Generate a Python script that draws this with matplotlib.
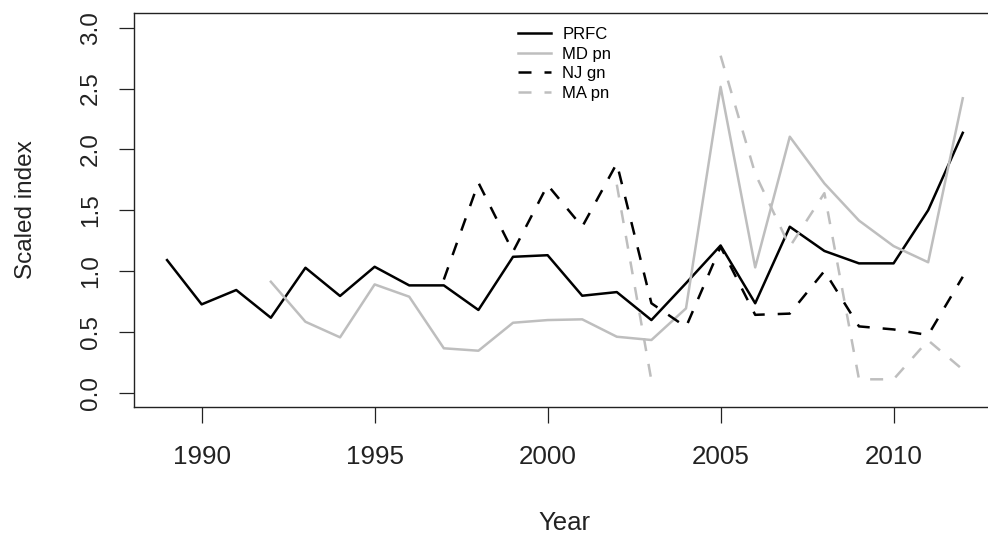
import numpy as np
import matplotlib
matplotlib.use('Agg')
import matplotlib.pyplot as plt

plt.rcParams['font.family'] = ['Liberation Sans', 'DejaVu Sans']

# Values (NaN = no data)
years = list(range(1989, 2013))
nan = np.nan
prfc = [1.09, 0.726, 0.844, 0.616, 1.027, 0.795, 1.035, 0.882, 0.882, 0.68, 1.117, 1.13,
        0.797, 0.827, 0.597, 0.90, 1.21, 0.735, 1.364, 1.165, 1.063, 1.063, 1.50, 2.136]
md_pn = [nan, nan, nan, 0.912, 0.583, 0.455, 0.89, 0.789, 0.365, 0.345, 0.575, 0.597,
         0.603, 0.46, 0.433, 0.693, 2.514, 1.03, 2.104, 1.72, 1.415, 1.205, 1.072, 2.42]
nj_gn = [nan, nan, nan, nan, nan, nan, nan, nan, 0.93, 1.726, 1.159, 1.707,
         1.364, 1.885, 0.735, 0.54, 1.2, 0.64, 0.65, 1.0, 0.545, 0.52, 0.474, 0.953]
ma_pn = [nan, nan, nan, nan, nan, nan, nan, nan, nan, nan, nan, nan,
         nan, 1.71, 0.10, nan, 2.77, 1.80, 1.20, 1.64, 0.11, 0.11, 0.43, 0.19]

gray = '#bebebe'
lw = 1.8
dash = (0, (5.2, 5.2))

fig = plt.figure(figsize=(9.88, 5.37), dpi=100)
ax = fig.add_axes([133.5 / 988, 1 - 407.3 / 537, (994.6 - 133.5) / 988, (407.3 - 13.1) / 537])

ax.plot(years, prfc, color='black', lw=lw, label='PRFC')
ax.plot(years, md_pn, color=gray, lw=lw, label='MD pn')
ax.plot(years, nj_gn, color='black', lw=lw, linestyle=dash, label='NJ gn')
ax.plot(years, ma_pn, color=gray, lw=lw, linestyle=dash, label='MA pn')

ax.set_xlim(1988.03, 2012.92)
ax.set_ylim(-0.12, 3.12)

ax.set_xticks([1990, 1995, 2000, 2005, 2010])
ax.set_yticks([0.0, 0.5, 1.0, 1.5, 2.0, 2.5, 3.0])
ax.set_yticklabels(['0.0', '0.5', '1.0', '1.5', '2.0', '2.5', '3.0'])
ax.tick_params(axis='x', length=11.5, width=0.9, pad=15.5, labelsize=18.7, colors='#222222')
ax.tick_params(axis='y', length=10.8, width=0.9, pad=12, labelsize=17.5, colors='#222222')
for lbl in ax.get_yticklabels():
    lbl.set_rotation(90)
    lbl.set_va('center')
    lbl.set_ha('right')

for s in ax.spines.values():
    s.set_linewidth(1.0)
    s.set_color('#222222')

fig.text(564 / 988, 1 - 530 / 537, 'Year', ha='center', va='baseline', fontsize=18.5, color='#222222')
fig.text(32 / 988, 1 - 210 / 537, 'Scaled index', rotation=90, rotation_mode='anchor',
         ha='center', va='baseline', fontsize=17.5, color='#222222')

ax.legend(loc='upper left', bbox_to_anchor=(518 / 988, 1 - 27 / 537), bbox_transform=fig.transFigure,
          frameon=False, fontsize=12, handlelength=1.95, handletextpad=0.7,
          labelspacing=0.28, borderpad=0, borderaxespad=0)

fig.savefig('out.png', dpi=100)
